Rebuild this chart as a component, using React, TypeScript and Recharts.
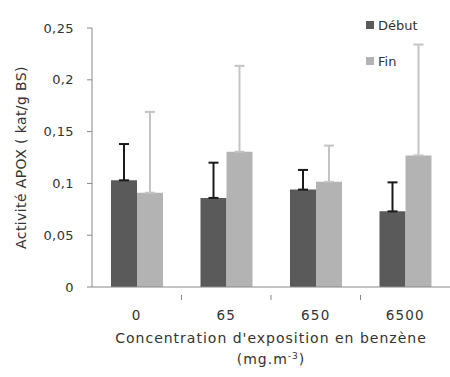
import { BarChart, Bar, XAxis, YAxis, ErrorBar } from "recharts";

const categories = ["0", "65", "650", "6500"];
const debut = [0.103, 0.086, 0.094, 0.073];
const debutErr = [0.035, 0.034, 0.019, 0.028];
const fin = [0.091, 0.1305, 0.1015, 0.127];
const finErr = [0.078, 0.083, 0.035, 0.107];
const yTicks = [0, 0.05, 0.1, 0.15, 0.2, 0.25];

const data = categories.map((c, i) => ({
  name: c,
  debut: debut[i],
  debutErr: [0, debutErr[i]],
  fin: fin[i],
  finErr: [0, finErr[i]],
}));

const DARK = "#5a5a5a";
const LIGHT = "#b3b3b3";
const FONT = "'DejaVu Sans', sans-serif";

const fmt = (v: number) => String(v).replace(".", ",");

const XTick = (props: any) => {
  const { x, y, payload, index } = props;
  const off = payload.offset || 0;
  return (
    <g>
      {index > 0 && (
        <line x1={x - off} y1={y} x2={x - off} y2={y + 5} stroke="#888" />
      )}
      <text x={x} y={y + 25} textAnchor="middle" fontSize={13.5} letterSpacing={1.2} fill="#333" fontFamily={FONT}>
        {payload.value}
      </text>
    </g>
  );
};

const XTitle = (props: any) => {
  const { viewBox } = props;
  const cx = viewBox.x + viewBox.width / 2;
  const y = viewBox.y;
  return (
    <g fontFamily={FONT} fontSize={14} fill="#333" textAnchor="middle">
      <text x={cx} y={y + 56} letterSpacing={1}>
        Concentration d'exposition en benzène
      </text>
      <text x={cx} y={y + 77} letterSpacing={1}>
        (mg.m<tspan dy={-5} fontSize={9}>-3</tspan>
        <tspan dy={5}>)</tspan>
      </text>
    </g>
  );
};

const legendItems = [
  { label: "Début", color: DARK },
  { label: "Fin", color: LIGHT },
];

export default function App() {
  return (
    <div style={{ position: "absolute", left: 0, top: 0, width: 450, height: 377, background: "#fff" }}>
      <BarChart
        width={450}
        height={377}
        data={data}
        margin={{ top: 28, right: 0, bottom: 60, left: 0 }}
        barGap={0}
        barSize={26}
      >
        <YAxis
          domain={[0, 0.25]}
          ticks={yTicks}
          tickFormatter={fmt}
          width={92}
          stroke="#888"
          tickSize={5}
          tickMargin={13}
          tick={{ fontSize: 13, fill: "#333", fontFamily: FONT, letterSpacing: 0.4 }}
          label={{
            value: "Activité APOX ( kat/g BS)",
            angle: -90,
            position: "insideLeft",
            offset: 0,
            dx: 21,
            style: { fontSize: 14, fill: "#333", fontFamily: FONT, textAnchor: "middle", letterSpacing: 0.4 },
          }}
        />
        <XAxis
          dataKey="name"
          height={30}
          stroke="#888"
          tickLine={false}
          tick={<XTick />}
          label={<XTitle />}
        />
        <Bar dataKey="debut" name="Début" fill={DARK} isAnimationActive={false}>
          <ErrorBar dataKey="debutErr" width={5} strokeWidth={2} stroke="#1a1a1a" direction="y" />
        </Bar>
        <Bar dataKey="fin" name="Fin" fill={LIGHT} isAnimationActive={false}>
          <ErrorBar dataKey="finErr" width={5} strokeWidth={2} stroke="#c4c4c4" direction="y" />
        </Bar>
      </BarChart>
      <div
        style={{
          position: "absolute",
          top: 7,
          left: 366,
          fontFamily: FONT,
          fontSize: 13,
          color: "#333",
        }}
      >
        {legendItems.map((it) => (
          <div key={it.label} style={{ display: "flex", alignItems: "center", height: 36 }}>
            <span style={{ width: 8, height: 8, background: it.color, marginRight: 4 }} />
            {it.label}
          </div>
        ))}
      </div>
    </div>
  );
}
